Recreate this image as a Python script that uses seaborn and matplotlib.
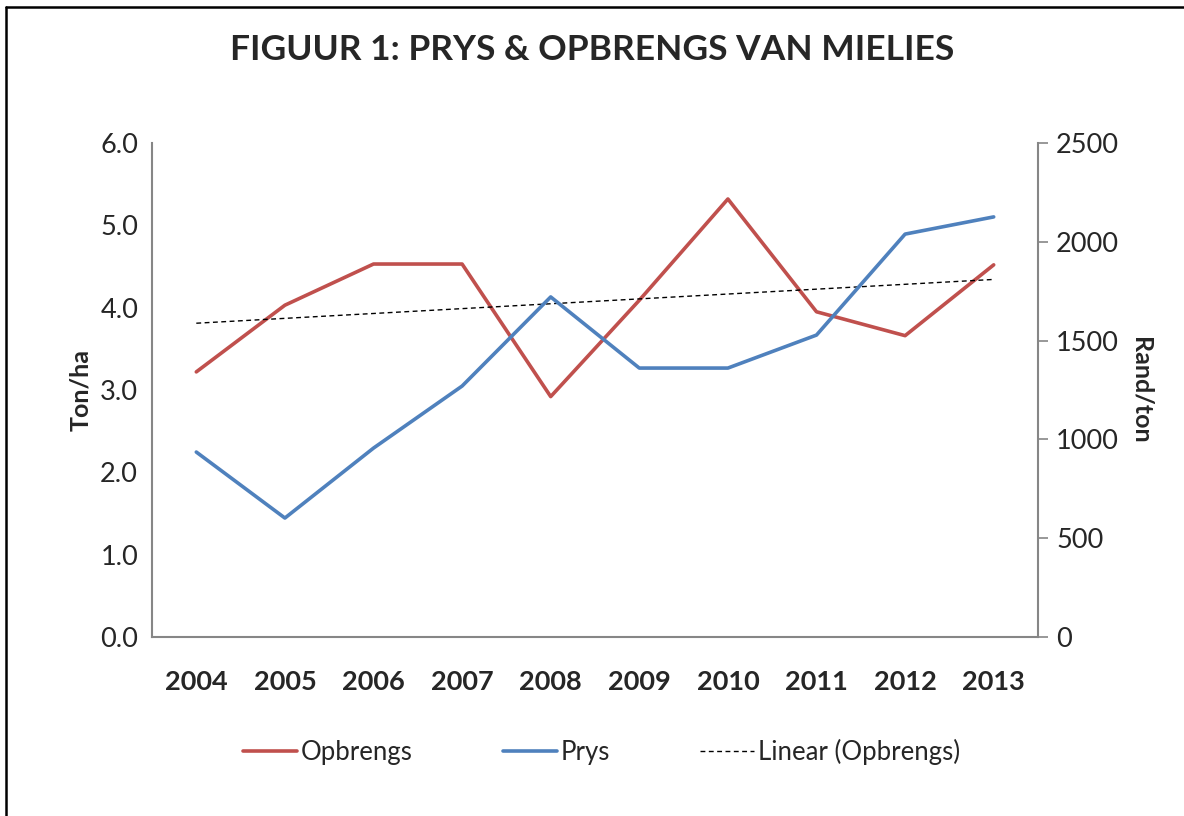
import numpy as np
import pandas as pd
import seaborn as sns
import matplotlib.pyplot as plt
from matplotlib.lines import Line2D

# data
years = ['2004', '2005', '2006', '2007', '2008', '2009', '2010', '2011', '2012', '2013']
opbrengs = [3.22, 4.03, 4.53, 4.53, 2.92, 4.09, 5.32, 3.95, 3.66, 4.52]   # Ton/ha
prys = [936, 602, 956, 1270, 1721, 1361, 1361, 1528, 2039, 2126]          # Rand/ton

RED = '#C0504D'
BLUE = '#4F81BD'
GREY = '#868686'

sns.set_style('white')
plt.rcParams['font.family'] = ['Lato', 'DejaVu Sans']

df = pd.DataFrame({'x': np.arange(len(years)), 'opbrengs': opbrengs, 'prys': prys})

# linear trendline of Opbrengs (as Excel would)
slope, intercept = np.polyfit(df['x'], df['opbrengs'], 1)
df['trend'] = intercept + slope * df['x']

fig = plt.figure(figsize=(11.84, 8.16), dpi=100)
ax = fig.add_axes([152 / 1184, 1 - 637 / 816, (1038 - 152) / 1184, (637 - 143) / 816])
ax2 = ax.twinx()

sns.lineplot(data=df, x='x', y='opbrengs', ax=ax, color=RED, lw=2.6, legend=False)
sns.lineplot(data=df, x='x', y='trend', ax=ax, color='black', lw=1.0,
             linestyle=(0, (3.5, 2.5)), legend=False)
sns.lineplot(data=df, x='x', y='prys', ax=ax2, color=BLUE, lw=2.6, legend=False)

ax.set_xlim(-0.5, len(years) - 0.5)
ax.set_ylim(0, 6)
ax2.set_ylim(0, 2500)
ax.set_yticks(np.arange(0, 6.1, 1.0))
ax.set_yticklabels([f'{v:.1f}' for v in np.arange(0, 6.1, 1.0)])
ax2.set_yticks(np.arange(0, 2501, 500))

# category ticks between years, labels at the centres
ax.set_xticks(np.arange(-0.5, len(years), 1.0))
ax.set_xticklabels([])
ax.set_xticks(np.arange(len(years)), minor=True)
ax.set_xticklabels(years, minor=True, fontsize=19.5, fontweight='bold')
ax.tick_params(axis='x', which='major', length=7, width=1.2, color=GREY, direction='out')
ax.tick_params(axis='x', which='minor', length=0, pad=24)
ax.tick_params(axis='y', length=0, labelsize=19.5, pad=10)
ax2.tick_params(axis='y', length=7, width=1.2, color=GREY, direction='out',
                labelsize=19.5, pad=6)

for a in (ax, ax2):
    for s in a.spines.values():
        s.set_visible(False)
ax.spines['left'].set_visible(True)
ax.spines['bottom'].set_visible(True)
ax2.spines['right'].set_visible(True)
for s in (ax.spines['left'], ax.spines['bottom'], ax2.spines['right']):
    s.set_color(GREY)
    s.set_linewidth(1.5)

ax.set_xlabel('')
ax.set_ylabel('Ton/ha', fontsize=18, fontweight='bold', labelpad=6)
ax2.set_ylabel('Rand/ton', fontsize=18, fontweight='bold', rotation=-90, labelpad=24)

fig.text(0.5, 1 - 50 / 816, 'FIGUUR 1: PRYS & OPBRENGS VAN MIELIES',
         ha='center', va='center', fontsize=25.5, fontweight='bold')

handles = [
    Line2D([], [], color=RED, lw=2.6),
    Line2D([], [], color=BLUE, lw=2.6),
    Line2D([], [], color='black', lw=1.0, linestyle=(0, (3.5, 2.5))),
]
fig.legend(handles, ['Opbrengs', 'Prys', 'Linear (Opbrengs)'], loc='center',
           bbox_to_anchor=(0.508, 1 - 752 / 816), ncol=3, frameon=False,
           fontsize=18.5, handlelength=2.1, handletextpad=0.15, columnspacing=3.5)

# chart border (top and left edges visible in the reference)
fig.add_artist(Line2D([6 / 1184, 6 / 1184], [0, 1 - 7 / 816], color='black', lw=1.8,
                      transform=fig.transFigure))
fig.add_artist(Line2D([6 / 1184, 1], [1 - 7 / 816, 1 - 7 / 816], color='black', lw=1.8,
                      transform=fig.transFigure))

fig.savefig('out.png', dpi=100)
